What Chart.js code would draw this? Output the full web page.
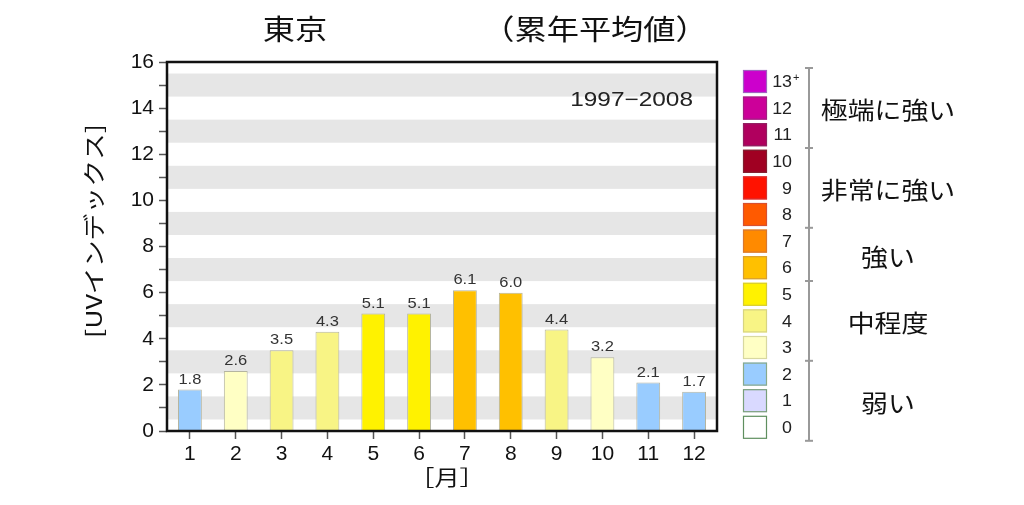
<!DOCTYPE html>
<html lang="ja">
<head>
<meta charset="UTF-8">
<title>東京 UVインデックス（累年平均値）</title>
<script src="https://cdn.jsdelivr.net/npm/chart.js"></script>
<style>
    body { margin: 0; background: #fff; }
    canvas { display: block; }
</style>
</head>
<body>
<canvas id="uvChart" width="1024" height="505"></canvas>
<script>
// data
const months = ['1', '2', '3', '4', '5', '6', '7', '8', '9', '10', '11', '12'];
const uvIndex = [1.8, 2.6, 3.5, 4.3, 5.1, 5.1, 6.1, 6.0, 4.4, 3.2, 2.1, 1.7];
const yTicks = [0, 2, 4, 6, 8, 10, 12, 14, 16];

// colour scale, index = UV level 0..13+
const levelLabels = ['0', '1', '2', '3', '4', '5', '6', '7', '8', '9', '10', '11', '12', '13'];
const levelColors = ['#ffffff', '#d9d9ff', '#99ccff', '#ffffc4', '#f8f485', '#fff200', '#ffc000',
    '#ff8a00', '#ff5a00', '#ff1200', '#a00022', '#b0005e', '#cc0099', '#cc00cc'];
const levelBorders = ['#5f8f5f', '#7a9f7a', '#8aaa8a', '#d8d8a0', '#d8d480', '#d8cc30', '#d8a030',
    '#d87830', '#d85030', '#d83030', '#802030', '#902060', '#a02080', '#a060c0'];
const groupNames = ['弱い', '中程度', '強い', '非常に強い', '極端に強い'];
const groupFrom = [0, 3, 6, 8, 11];
const groupTo = [2, 5, 7, 10, 13];

const FONT_JP = '"Noto Sans CJK JP", "Noto Sans", sans-serif';
const FONT_NUM = '"Liberation Sans", Arial, sans-serif';

function levelOf(v) {
    return Math.min(13, Math.round(v));
}

// the source image is a bit wide, so text gets stretched horizontally
function wideText(ctx, text, x, y, font, align, sx, angle) {
    ctx.save();
    ctx.translate(x, y);
    if (angle) ctx.rotate(angle);
    ctx.scale(sx, 1);
    ctx.font = font;
    ctx.textAlign = align;
    ctx.textBaseline = 'middle';
    ctx.fillText(text, 0, 0);
    ctx.restore();
}

const decorPlugin = {
    id: 'decor',
    beforeDatasetsDraw(chart) {
        const { ctx, chartArea, scales } = chart;
        const y = scales.y;
        ctx.save();
        ctx.fillStyle = '#e6e6e6';
        for (let n = 1; n < 16; n += 2) {
            const top = y.getPixelForValue(n + 0.5);
            const bot = y.getPixelForValue(n - 0.5);
            ctx.fillRect(chartArea.left, top, chartArea.right - chartArea.left, bot - top);
        }
        ctx.restore();
    },
    afterDatasetsDraw(chart) {
        const { ctx, chartArea } = chart;
        const meta = chart.getDatasetMeta(0);
        ctx.save();
        // value labels
        ctx.fillStyle = '#333';
        meta.data.forEach((bar, i) => {
            wideText(ctx, uvIndex[i].toFixed(1), bar.x, bar.y - 10, '15px ' + FONT_NUM, 'center', 1.1);
        });
        // frame
        ctx.strokeStyle = '#111';
        ctx.lineWidth = 2.5;
        ctx.strokeRect(chartArea.left, chartArea.top, chartArea.right - chartArea.left, chartArea.bottom - chartArea.top);

        // titles
        ctx.fillStyle = '#111';
        wideText(ctx, '東京', 295, 29, '28px ' + FONT_JP, 'center', 1.15);
        wideText(ctx, '（累年平均値）', 595, 29, '28px ' + FONT_JP, 'center', 1.15);
        wideText(ctx, '[UVインデックス]', 94, 231, '22px ' + FONT_JP, 'center', 1.22, -Math.PI / 2);
        wideText(ctx, '［月］', 447, 477, '21px ' + FONT_JP, 'center', 1.2);
        ctx.fillStyle = '#222';
        wideText(ctx, '1997−2008', 693, 100, '20px ' + FONT_NUM, 'right', 1.22);

        // colour legend
        const pitch = 26.6, boxTop = 70, boxH = 23;
        const yTop = lv => boxTop + (13 - lv) * pitch;
        for (let lv = 0; lv <= 13; lv++) {
            const t = yTop(lv);
            ctx.fillStyle = levelColors[lv];
            ctx.fillRect(743, t, 24, boxH);
            ctx.strokeStyle = levelBorders[lv];
            ctx.lineWidth = 1.2;
            ctx.strokeRect(743.5, t + 0.5, 23, boxH - 1);
            ctx.fillStyle = '#222';
            wideText(ctx, levelLabels[lv], 792, t + boxH / 2 + 1, '17px ' + FONT_NUM, 'right', 1.05);
            if (lv === 13) {
                wideText(ctx, '+', 793, t + boxH / 2 - 4, '11px ' + FONT_NUM, 'left', 1);
            }
        }
        // bracket
        ctx.strokeStyle = '#999';
        ctx.lineWidth = 2;
        const lineTop = yTop(13) - 2, lineBot = yTop(0) + boxH + 2;
        ctx.beginPath();
        ctx.moveTo(809, lineTop);
        ctx.lineTo(809, lineBot);
        ctx.stroke();
        const marks = [lineTop, lineBot];
        for (let g = 1; g < groupFrom.length; g++) marks.push(yTop(groupFrom[g]) + boxH + 1.8);
        marks.forEach(m => {
            ctx.beginPath();
            ctx.moveTo(805, m);
            ctx.lineTo(813, m);
            ctx.stroke();
        });
        // group names
        ctx.fillStyle = '#111';
        groupNames.forEach((name, g) => {
            const c = (yTop(groupTo[g]) + yTop(groupFrom[g]) + boxH) / 2;
            wideText(ctx, name, 888, c + 2, '24px ' + FONT_JP, 'center', 1.12);
        });
        ctx.restore();
    }
};

const ctx = document.getElementById('uvChart').getContext('2d');
const uvChart = new Chart(ctx, {
    type: 'bar',
    data: {
        labels: months,
        datasets: [{
            label: 'UVインデックス',
            data: uvIndex,
            backgroundColor: c => levelColors[levelOf(c.raw)],
            borderColor: '#b5b5a0',
            borderWidth: 1,
            barPercentage: 0.52,
            categoryPercentage: 1.0
        }]
    },
    options: {
        responsive: false,
        animation: false,
        layout: { padding: { top: 62, right: 307, left: 80, bottom: 0 } },
        plugins: {
            legend: { display: false },
            tooltip: { enabled: false }
        },
        scales: {
            x: {
                grid: { display: true, drawOnChartArea: false, offset: false, tickLength: 8, color: '#555', tickWidth: 1.5 },
                border: { display: false },
                ticks: { color: '#111', font: { size: 21, family: FONT_NUM }, padding: 3 },
                afterFit: s => { s.height = 74; }
            },
            y: {
                min: 0,
                max: 16,
                afterBuildTicks: s => {
                    const t = [];
                    for (let v = 0; v <= 16; v++) t.push({ value: v });
                    s.ticks = t;
                },
                grid: { display: true, drawOnChartArea: false, tickLength: 8, color: '#555', tickWidth: 1.5 },
                border: { display: false },
                ticks: {
                    color: '#111',
                    font: { size: 21, family: FONT_NUM },
                    padding: 5,
                    autoSkip: false,
                    callback: v => (yTicks.includes(v) ? String(v) : '')
                },
                afterFit: s => { s.width = 87; }
            }
        }
    },
    plugins: [decorPlugin]
});
</script>
</body>
</html>
